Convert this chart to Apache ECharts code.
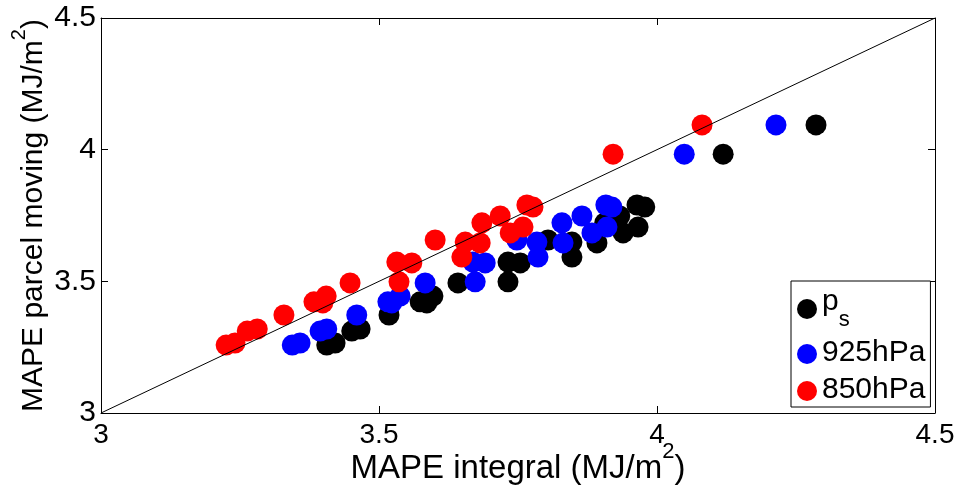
<!DOCTYPE html>
<html>
<head>
<meta charset="utf-8">
<script src="https://cdn.jsdelivr.net/npm/echarts@6/dist/echarts.min.js"></script>
<style>
html,body{margin:0;padding:0;background:#fff;}
#chart{width:962px;height:494px;}
</style>
</head>
<body>
<div id="chart"></div>
<script>
// Shared y values: MAPE parcel moving (MJ/m^2)
var parcelMoving = [3.258, 3.266, 3.311, 3.319, 3.372, 3.422, 3.418, 3.444, 3.494, 3.573, 3.570, 3.498,
  3.657, 3.649, 3.592, 3.646, 3.722, 3.748, 3.684, 3.706, 3.790, 3.782, 3.983, 4.094];
// x values: MAPE integral (MJ/m^2) for each level
var integralPs = [3.406, 3.421, 3.451, 3.466, 3.518, 3.574, 3.586, 3.597, 3.642, 3.732, 3.754, 3.732,
  3.804, 3.847, 3.847, 3.892, 3.906, 3.933, 3.939, 3.966, 3.964, 3.978, 4.119, 4.286];
var integral925 = [3.344, 3.358, 3.394, 3.406, 3.460, 3.516, 3.523, 3.538, 3.583, 3.669, 3.691, 3.673,
  3.748, 3.784, 3.786, 3.831, 3.829, 3.865, 3.883, 3.910, 3.908, 3.919, 4.049, 4.214];
var integral850 = [3.225, 3.241, 3.263, 3.281, 3.329, 3.383, 3.399, 3.405, 3.448, 3.532, 3.559, 3.536,
  3.601, 3.655, 3.649, 3.682, 3.685, 3.718, 3.736, 3.759, 3.766, 3.777, 3.921, 4.081];
var seriesNames = ['p_s', '925hPa', '850hPa'];
var seriesColors = ['#000000', '#0000ff', '#ff0000'];
var axisTicks = [3, 3.5, 4, 4.5];
var diagonal = [3, 4.5];

function pairs(xs, ys) { return xs.map(function (x, i) { return [x, ys[i]]; }); }

var FONT = 'Liberation Sans';
var chart = echarts.init(document.getElementById('chart'), null, {renderer: 'canvas'});

var baseAxis = {
  type: 'value', min: axisTicks[0], max: axisTicks[axisTicks.length - 1], interval: 0.5,
  splitLine: {show: false},
  axisLine: {show: true, lineStyle: {color: '#000', width: 1}},
  axisTick: {show: true, inside: true, length: 7, lineStyle: {color: '#000', width: 1}}
};

var option = {
  backgroundColor: '#fff',
  animation: false,
  grid: {left: 101, right: 27, top: 18, bottom: 81, containLabel: false, outerBoundsMode: 'none'},
  xAxis: [
    Object.assign({}, baseAxis, {
      position: 'bottom',
      axisLabel: {color: '#000', fontFamily: FONT, fontSize: 28, margin: 8,
        formatter: function (v) { return String(v); }},
      name: '{t|MAPE integral (MJ/m}{sup|2}{t|)}',
      nameLocation: 'middle', nameGap: 28, nameMoveOverlap: false,
      nameTextStyle: {rich: {
        t: {fontFamily: FONT, fontSize: 33, color: '#000', verticalAlign: 'bottom', padding: [8, 0, 0, 0]},
        sup: {fontFamily: FONT, fontSize: 22, color: '#000', verticalAlign: 'top', padding: [0, 0, 22, 0]}
      }}
    }),
    Object.assign({}, baseAxis, {position: 'top', axisLabel: {show: false}})
  ],
  yAxis: [
    Object.assign({}, baseAxis, {
      position: 'left',
      axisLabel: {color: '#000', fontFamily: FONT, fontSize: 30, margin: 5,
        formatter: function (v) { return String(v); }},
      name: '{t|MAPE parcel moving (MJ/m}{sup|2}{t|)}',
      nameLocation: 'middle', nameGap: 52, nameMoveOverlap: false,
      nameTextStyle: {rich: {
        t: {fontFamily: FONT, fontSize: 30, color: '#000', verticalAlign: 'bottom', padding: [8, 0, 0, 0]},
        sup: {fontFamily: FONT, fontSize: 20, color: '#000', verticalAlign: 'top', padding: [0, 0, 20, 0]}
      }}
    }),
    Object.assign({}, baseAxis, {position: 'right', axisLabel: {show: false}})
  ],
  legend: {
    orient: 'vertical', left: 791, top: 281,
    data: seriesNames,
    icon: 'circle', itemWidth: 20, itemHeight: 20, itemGap: 7,
    padding: [6, 5, 2, 6],
    backgroundColor: '#fff', borderColor: '#000', borderWidth: 1, borderRadius: 0,
    formatter: function (name) {
      if (name === 'p_s') return '{m|p}{s|s}';
      return '{m|' + name + '}';
    },
    textStyle: {
      color: '#000', fontFamily: FONT, fontSize: 30,
      rich: {
        m: {fontFamily: FONT, fontSize: 30, color: '#000', lineHeight: 32, verticalAlign: 'top'},
        s: {fontFamily: FONT, fontSize: 22, color: '#000', verticalAlign: 'bottom', padding: [22, 0, 0, 0]}
      }
    }
  },
  series: [
    {name: seriesNames[0], type: 'scatter', symbol: 'circle', symbolSize: 21,
      itemStyle: {color: seriesColors[0], opacity: 1}, data: pairs(integralPs, parcelMoving)},
    {name: seriesNames[1], type: 'scatter', symbol: 'circle', symbolSize: 21,
      itemStyle: {color: seriesColors[1], opacity: 1}, data: pairs(integral925, parcelMoving)},
    {name: seriesNames[2], type: 'scatter', symbol: 'circle', symbolSize: 21,
      itemStyle: {color: seriesColors[2], opacity: 1}, data: pairs(integral850, parcelMoving)},
    {name: 'diag', type: 'line', symbol: 'none', silent: true, z: 5,
      lineStyle: {color: '#000', width: 1}, data: pairs(diagonal, diagonal)}
  ]
};
chart.setOption(option);
</script>
</body>
</html>
